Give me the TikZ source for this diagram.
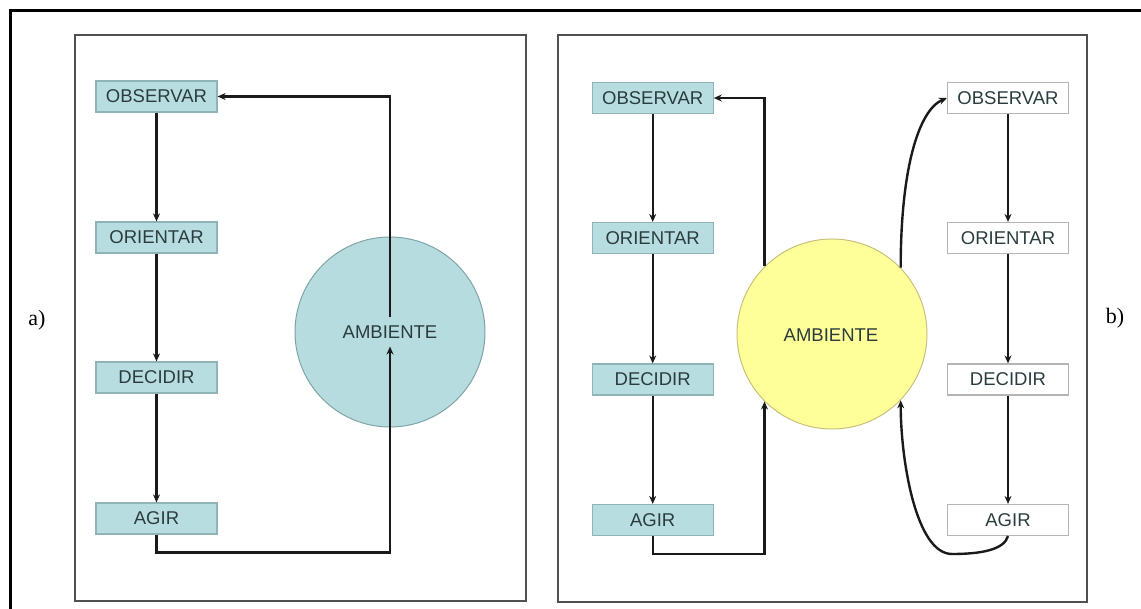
\documentclass[tikz,border=0pt]{standalone}
\usepackage{fontspec}
\setmainfont{Liberation Serif}
\newfontfamily\boxfont{Liberation Sans}
\usetikzlibrary{arrows.meta,shapes.geometric}
\definecolor{tealfill}{HTML}{B8DDE1}
\definecolor{tealdraw}{HTML}{8FB3B6}
\definecolor{circfill}{HTML}{B6DCE0}
\definecolor{circdraw}{HTML}{7FA4A8}
\definecolor{yelfill}{HTML}{FFFF99}
\definecolor{yeldraw}{HTML}{C8C07A}
\definecolor{panelcol}{HTML}{505050}
\definecolor{linecol}{HTML}{1A1A1A}
\definecolor{txtcol}{HTML}{2A3C3E}
\definecolor{graybox}{HTML}{B4B4B4}
\tikzset{
  stagebox/.style={draw=tealdraw, fill=tealfill, line width=1.2pt, minimum width=121pt, minimum height=31pt, inner sep=0pt,
    font=\boxfont\fontsize{18.5}{20}\selectfont, text=txtcol},
  whitebox/.style={stagebox, draw=graybox, fill=white},
  panel/.style={draw=panelcol, line width=2.5pt},
  arr/.style={draw=linecol, line width=2.4pt, -{Stealth[length=8pt,width=7pt]}},
  ambtext/.style={font=\boxfont\fontsize{18.5}{20}\selectfont, text=txtcol, inner sep=8pt},
  lbl/.style={font=\fontsize{22}{24}\selectfont, inner sep=0pt}
}
\begin{document}
\begin{tikzpicture}[x=1pt,y=-1pt]
\useasboundingbox (0,0) rectangle (1141,609);
% outer frame (cut at right and bottom)
\draw[line width=3pt, black] (10,609) -- (10,11) -- (1141,11);
% panels
\draw[panel] (75,35) rectangle (526,601);
\draw[panel] (558,35) rectangle (1087,602);
% labels
\node[lbl] (la) at (37,320) {a)};
\node[lbl] (lb) at (1115,318) {b)};

% ---------- panel a ----------
\node[circle, draw=circdraw, fill=circfill, line width=1pt, minimum size=190pt, inner sep=0pt] (circA) at (390,332) {};
\node[ambtext] (ambA) at (390,332) {AMBIENTE};
\node[stagebox] (obsA) at (156.5,96.5) {OBSERVAR};
\node[stagebox] (oriA) at (156.5,237.5) {ORIENTAR};
\node[stagebox] (decA) at (156.5,377.5) {DECIDIR};
\node[stagebox] (agiA) at (156.5,518.5) {AGIR};
\draw[arr] (obsA.south) -- (oriA.north);
\draw[arr] (oriA.south) -- (decA.north);
\draw[arr] (decA.south) -- (agiA.north);
\draw[arr] (ambA.north) |- (obsA.east);
\draw[arr] (agiA.south) -- ++(0,18) -| (ambA.south);

% ---------- panel b ----------
\node[circle, draw=yeldraw, fill=yelfill, line width=1pt, minimum size=190pt, inner sep=0pt] (ambB) at (832,334) {};
\node[ambtext] (ambBt) at (831,335) {AMBIENTE};
\node[stagebox] (obsL) at (652.7,98) {OBSERVAR};
\node[stagebox] (oriL) at (652.7,238) {ORIENTAR};
\node[stagebox] (decL) at (652.7,379.5) {DECIDIR};
\node[stagebox] (agiL) at (652.7,520) {AGIR};
\node[whitebox] (obsR) at (1008,98) {OBSERVAR};
\node[whitebox] (oriR) at (1008,238) {ORIENTAR};
\node[whitebox] (decR) at (1008,379.5) {DECIDIR};
\node[whitebox] (agiR) at (1008,520) {AGIR};
\draw[arr] (obsL.south) -- (oriL.north);
\draw[arr] (oriL.south) -- (decL.north);
\draw[arr] (decL.south) -- (agiL.north);
\draw[arr] (obsR.south) -- (oriR.north);
\draw[arr] (oriR.south) -- (decR.north);
\draw[arr] (decR.south) -- (agiR.north);
\draw[arr] (ambB.135) |- (obsL.east);
\draw[arr] (agiL.south) -- ++(0,18) -| (ambB.225);
\draw[arr] (ambB.44) .. controls +(0,-100) and +(-28,12) .. (obsR.west);
\coordinate (cR) at (952,554);
\draw[arr] (agiR.south) .. controls +(-4,14) and +(28,0) .. (cR) .. controls +(-36,0) and +(0,60) .. (ambB.-44);
\end{tikzpicture}
\end{document}
